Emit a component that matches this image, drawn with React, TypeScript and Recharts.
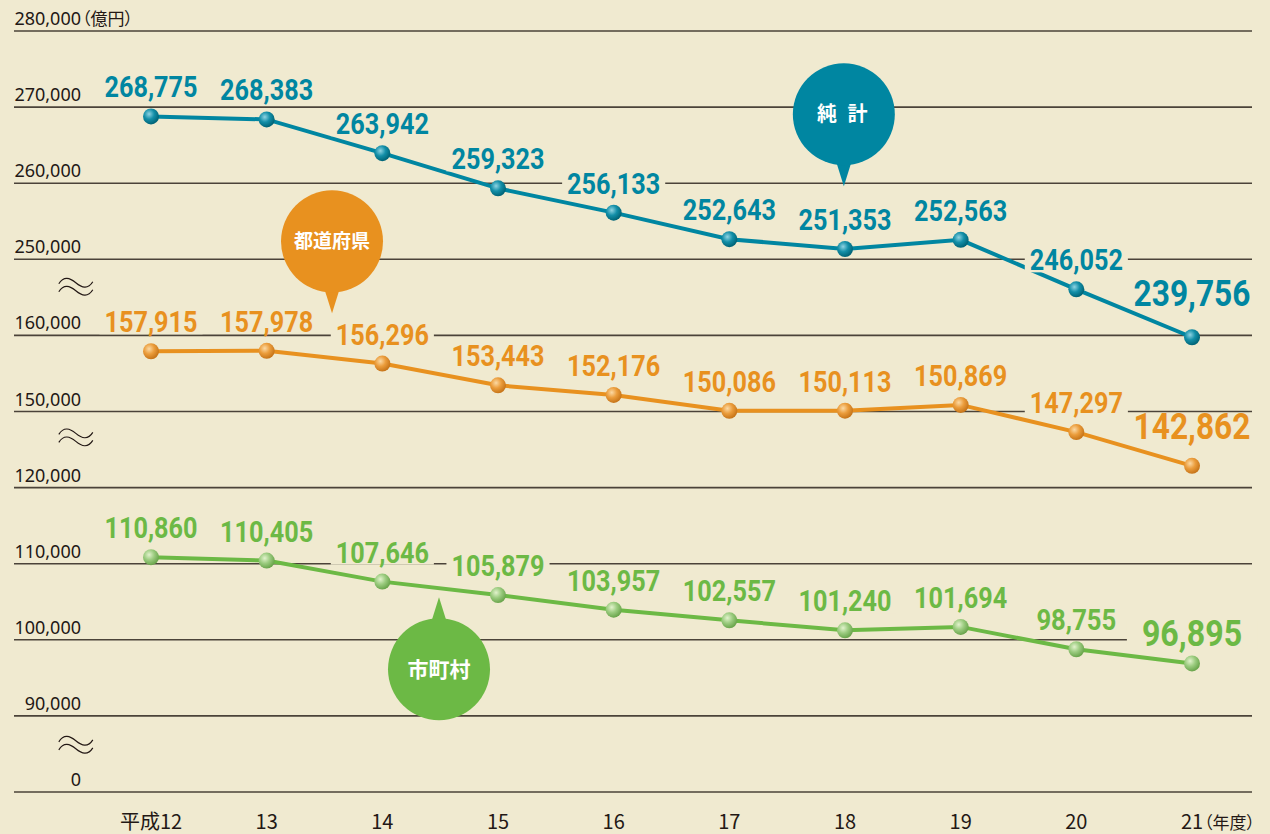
import React from 'react';
import {
  LineChart,
  Line,
  XAxis,
  YAxis,
  CartesianGrid,
  LabelList,
  ReferenceDot,
} from 'recharts';

const years = ['平成12', '13', '14', '15', '16', '17', '18', '19', '20', '21'];
const totalValues = [268775, 268383, 263942, 259323, 256133, 252643, 251353, 252563, 246052, 239756];
const prefValues = [157915, 157978, 156296, 153443, 152176, 150086, 150113, 150869, 147297, 142862];
const muniValues = [110860, 110405, 107646, 105879, 103957, 102557, 101240, 101694, 98755, 96895];
const yTickLabels = ['0', '90,000', '100,000', '110,000', '120,000', '150,000', '160,000', '250,000', '260,000', '270,000', '280,000'];

// broken axis: each band is shifted so its gridlines line up with the virtual 0..10 scale
const totalBase = 180000;
const prefBase = 100000;
const muniBase = 80000;
const breaks = [6.64, 4.66, 0.62];

const BG = '#f0ead0';
const INK = '#231815';
const TEAL = '#0086a1';
const ORANGE = '#e8911f';
const GREEN = '#6cb945';
const LABEL_FONT = "'Roboto', 'Noto Sans', sans-serif";
const CJK = "'Noto Sans CJK JP', 'Noto Sans', sans-serif";

const data = years.map((label, i) => ({
  idx: i,
  label,
  total: totalValues[i],
  pref: prefValues[i],
  muni: muniValues[i],
  totalV: (totalValues[i] - totalBase) / 10000,
  prefV: (prefValues[i] - prefBase) / 10000,
  muniV: (muniValues[i] - muniBase) / 10000,
}));

const last = years.length - 1;

function makeLabel(color: string, bigLift: number, bigPad: number) {
  return (p: any) => {
    const { x, y, value, index } = p;
    const big = index === last;
    const text = Number(value).toLocaleString('en-US');
    const fs = big ? 37 : 29;
    const cw = big ? 16.7 : 13.3;
    const tw = text.length * cw;
    const w = tw + (big ? bigPad : 10);
    const base = big ? y - bigLift : y - 19;
    return (
      <g>
        <rect x={x - w / 2} y={base - fs * 0.7} width={w} height={fs * 0.7 + 2} fill={BG} />
        <text
          x={x}
          y={base}
          textAnchor="middle"
          fontSize={fs}
          fontWeight={700}
          fontFamily={LABEL_FONT}
          fill={color}
          textLength={tw}
          lengthAdjust="spacingAndGlyphs"
        >
          {text}
        </text>
      </g>
    );
  };
}

function makeDot(grad: string) {
  return (p: any) => <circle key={p.index} cx={p.cx} cy={p.cy} r={8} fill={`url(#${grad})`} />;
}

const YTick = (p: any) => {
  const { x, y, payload } = p;
  const i = payload.value as number;
  return (
    <g>
      <text x={x + 67} y={y - 6} textAnchor="end" fontSize={18} fontFamily="'Noto Sans', sans-serif" fill={INK}>
        {yTickLabels[i]}
      </text>
      {i === 10 && (
        <text x={x + 68} y={y - 6} fontSize={17} fontFamily={CJK} fill={INK} style={{ fontFeatureSettings: "'palt'" }}>
          （億円）
        </text>
      )}
    </g>
  );
};

const XTick = (p: any) => {
  const { x, y, payload } = p;
  const i = payload.value as number;
  return (
    <g>
      <text x={x} y={y + 37} textAnchor="middle" fontSize={20} fontFamily={CJK} fill={INK}>
        {years[i]}
      </text>
      {i === last && (
        <text x={x + 12} y={y + 37} fontSize={17} fontFamily={CJK} fill={INK} style={{ fontFeatureSettings: "'palt'" }}>
          （年度）
        </text>
      )}
    </g>
  );
};

const Wavy = (p: any) => {
  const { cx, cy } = p;
  const wave = (dy: number) =>
    `M${cx - 17},${cy + dy + 1} C${cx - 12},${cy + dy - 7} ${cx - 6},${cy + dy - 5} ${cx},${cy + dy} S${cx + 12},${cy + dy + 7} ${cx + 17},${cy + dy - 1}`;
  return (
    <g fill="none" stroke={INK} strokeWidth={1.2}>
      <path d={wave(-4)} />
      <path d={wave(4)} />
    </g>
  );
};

function makeCallout(text: string, color: string, up: boolean, fs: number, spacing = 0) {
  return (p: any) => {
    const { cx, cy } = p;
    const d = up ? 72 : -72;
    const by = up ? cy + 35 : cy - 35;
    return (
      <g>
        <polygon points={`${cx - 11},${by} ${cx + 11},${by} ${cx},${cy}`} fill={color} />
        <circle cx={cx} cy={cy + d} r={51} fill={color} />
        <text
          x={cx}
          y={cy + d + fs * 0.36}
          textAnchor="middle"
          fontSize={fs}
          fontWeight={700}
          fontFamily={CJK}
          fill="#ffffff"
          letterSpacing={spacing}
        >
          {text}
        </text>
      </g>
    );
  };
}

export default function App() {
  return (
    <div style={{ position: 'absolute', left: 0, top: 0, width: 1270, height: 834, background: BG }}>
      <LineChart width={1270} height={834} data={data} margin={{ top: 31, right: 18, bottom: 0, left: 0 }}>
        <defs>
          <radialGradient id="gTeal" cx="38%" cy="35%" r="65%">
            <stop offset="0%" stopColor="#8fd3e2" />
            <stop offset="50%" stopColor="#138fa8" />
            <stop offset="100%" stopColor="#006477" />
          </radialGradient>
          <radialGradient id="gOrange" cx="38%" cy="35%" r="65%">
            <stop offset="0%" stopColor="#fbd9a4" />
            <stop offset="50%" stopColor="#eb9d3c" />
            <stop offset="100%" stopColor="#c77519" />
          </radialGradient>
          <radialGradient id="gGreen" cx="38%" cy="35%" r="65%">
            <stop offset="0%" stopColor="#e2f2cc" />
            <stop offset="50%" stopColor="#9ccc80" />
            <stop offset="100%" stopColor="#6aa54c" />
          </radialGradient>
        </defs>
        <CartesianGrid vertical={false} stroke="#4b4339" strokeWidth={1.6} />
        <XAxis
          type="number"
          dataKey="idx"
          domain={[0, last]}
          ticks={years.map((_, i) => i)}
          padding={{ left: 137, right: 60 }}
          height={42}
          axisLine={false}
          tickLine={false}
          tickSize={0}
          tickMargin={0}
          tick={XTick}
          interval={0}
        />
        <YAxis
          type="number"
          domain={[0, 10]}
          ticks={yTickLabels.map((_, i) => i)}
          width={14}
          axisLine={false}
          tickLine={false}
          tickSize={0}
          tickMargin={0}
          tick={YTick}
          interval={0}
        />
        {breaks.map((b) => (
          <ReferenceDot key={b} x={-0.65} y={b} ifOverflow="visible" shape={Wavy} />
        ))}
        <ReferenceDot x={5.99} y={7.96} shape={makeCallout('純 計', TEAL, false, 20, 3)} />
        <ReferenceDot x={1.565} y={6.29} shape={makeCallout('都道府県', ORANGE, false, 19)} />
        <ReferenceDot x={2.49} y={2.56} shape={makeCallout('市町村', GREEN, true, 21)} />
        <Line type="linear" dataKey="totalV" stroke={TEAL} strokeWidth={4} dot={makeDot('gTeal')} activeDot={false} isAnimationActive={false}>
          <LabelList dataKey="total" content={makeLabel(TEAL, 31, 6)} />
        </Line>
        <Line type="linear" dataKey="prefV" stroke={ORANGE} strokeWidth={4} dot={makeDot('gOrange')} activeDot={false} isAnimationActive={false}>
          <LabelList dataKey="pref" content={makeLabel(ORANGE, 27, 10)} />
        </Line>
        <Line type="linear" dataKey="muniV" stroke={GREEN} strokeWidth={4} dot={makeDot('gGreen')} activeDot={false} isAnimationActive={false}>
          <LabelList dataKey="muni" content={makeLabel(GREEN, 17, 30)} />
        </Line>
      </LineChart>
    </div>
  );
}
